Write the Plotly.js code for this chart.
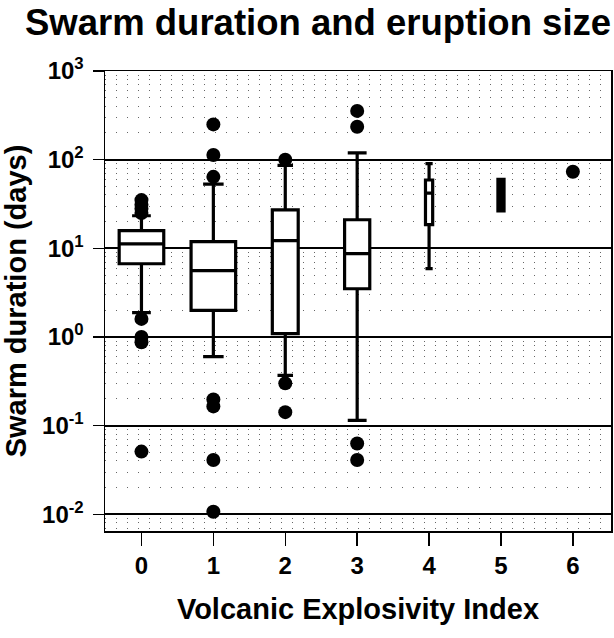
<!DOCTYPE html>
<html>
<head>
<meta charset="utf-8">
<script src="https://cdn.plot.ly/plotly-3.0.1.min.js"></script>
<style>html,body{margin:0;padding:0;background:#fff;}#chart{width:614px;height:638px;}</style>
</head>
<body>
<div id="chart"></div>
<script>
// ---- data ----
const vei = [0, 1, 2, 3, 4, 5];
const q1 = [6.7, 2.0, 1.09, 3.5, 18.5, 26.5];
const median = [11.2, 5.6, 12.2, 8.7, 42, 40];
const q3 = [15.8, 11.9, 27.2, 21, 59, 60];
const lowerFence = [1.88, 0.6, 0.37, 0.115, 5.9, 26.5];
const upperFence = [23.3, 53, 86, 119, 90, 60];

const outlierVEI  = [0, 0, 0, 0, 0, 0, 0, 0, 1, 1, 1, 1, 1, 1, 1, 2, 2, 2, 3, 3, 3, 3, 6];
const outlierDays = [35, 31, 28, 25, 1.6, 1.0, 0.87, 0.051,
                     250, 113, 64, 0.197, 0.165, 0.041, 0.0107,
                     100, 0.30, 0.142,
                     355, 235, 0.063, 0.041,
                     73];

const xTickVals = [0, 1, 2, 3, 4, 5, 6];
const xTickText = ['0', '1', '2', '3', '4', '5', '6'];
const yTickVals = [0.01, 0.1, 1, 10, 100, 1000];
const yTickText = ['10<sup>-2</sup>', '10<sup>-1</sup>', '10<sup>0</sup>', '10<sup>1</sup>', '10<sup>2</sup>', '10<sup>3</sup>'];

// ---- styling ----
const boxWidth = [0.62, 0.62, 0.36, 0.35, 0.1, 0.085];
const capWidth = [0.42, 0.46, 0.6, 0.75, 1, 1];
const boxFill = ['white', 'white', 'white', 'white', 'white', 'black'];
const FONT = 'Liberation Sans, Arial, sans-serif';

const traces = vei.map((v, i) => ({
  type: 'box',
  x: [v],
  q1: [q1[i]], median: [median[i]], q3: [q3[i]],
  lowerfence: [lowerFence[i]], upperfence: [upperFence[i]],
  width: boxWidth[i],
  whiskerwidth: capWidth[i],
  boxpoints: false,
  fillcolor: boxFill[i],
  line: {color: 'black', width: 3.2},
  showlegend: false,
  hoverinfo: 'skip'
}));

traces.push({
  type: 'scatter', mode: 'markers',
  x: outlierVEI, y: outlierDays,
  marker: {color: 'black', size: 14},
  showlegend: false,
  cliponaxis: false
});

const layout = {
  width: 614, height: 638,
  margin: {l: 105, r: 3, t: 71, b: 107},
  paper_bgcolor: 'white', plot_bgcolor: 'white',
  font: {family: FONT, color: 'black'},
  showlegend: false,
  title: {
    text: '<b>Swarm duration and eruption size</b>',
    font: {family: FONT, size: 36.5, color: 'black'},
    x: 0.518, xref: 'container', xanchor: 'center',
    y: 0.965, yref: 'container', yanchor: 'middle'
  },
  xaxis: {
    type: 'linear',
    range: [-0.507, 6.53],
    tickvals: xTickVals, ticktext: xTickText,
    ticks: 'outside', ticklen: 13, tickwidth: 1.5, tickcolor: 'black',
    tickfont: {family: FONT, size: 24, color: 'black', weight: 'bold'},
    ticklabelstandoff: 0,
    showgrid: false, zeroline: false,
    showline: true, mirror: true, linecolor: 'black', linewidth: 1.5,
    title: {text: '<b>Volcanic Explosivity Index</b>', font: {family: FONT, size: 29, color: 'black'}, standoff: 20}
  },
  yaxis: {
    type: 'log',
    range: [-2.188, 3.0],
    tickvals: yTickVals, ticktext: yTickText,
    ticks: 'outside', ticklen: 11, tickwidth: 1.5, tickcolor: 'black',
    tickfont: {family: FONT, size: 24, color: 'black', weight: 'bold'},
    ticklabelstandoff: 4,
    showgrid: true, gridcolor: 'black', gridwidth: 2.2,
    minor: {dtick: 'D1', showgrid: true, gridcolor: '#666', gridwidth: 1, griddash: '1px,10px', ticks: ''},
    showline: true, mirror: true, linecolor: 'black', linewidth: 1.5,
    zeroline: false,
    title: {text: '<b>Swarm duration (days)</b>', font: {family: FONT, size: 29, color: 'black'}, standoff: 8}
  }
};

Plotly.newPlot('chart', traces, layout, {displayModeBar: false, staticPlot: true});
</script>
</body>
</html>
